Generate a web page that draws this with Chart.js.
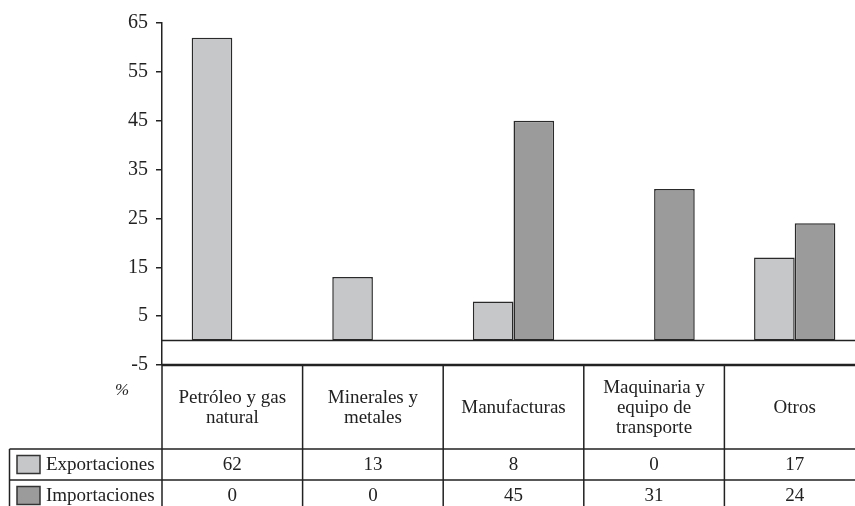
<!DOCTYPE html>
<html>
<head>
<meta charset="utf-8">
<script src="https://cdn.jsdelivr.net/npm/chart.js@4"></script>
<style>
  html, body { margin: 0; padding: 0; background: #fff; overflow: hidden; }
  #wrap { width: 866px; height: 506px; }
</style>
</head>
<body>
<div id="wrap"><canvas id="grafico"></canvas></div>
<script>
const categorias = [
  ['Petróleo y gas', 'natural'],
  ['Minerales y', 'metales'],
  ['Manufacturas'],
  ['Maquinaria y', 'equipo de', 'transporte'],
  ['Otros']
];
const exportaciones = [62, 13, 8, 0, 17];
const importaciones = [0, 0, 45, 31, 24];
const yTicks = [-5, 5, 15, 25, 35, 45, 55, 65];

const colorExp = '#c6c7c9';
const colorImp = '#9b9b9b';
const tinta = '#222';
const fuente = '"Liberation Serif", "Times New Roman", serif';

// tabla de datos bajo el eje x
const tablaPlugin = {
  id: 'tabla',
  afterDraw(chart) {
    const ctx = chart.ctx;
    const x = chart.scales.x, y = chart.scales.y;
    const area = chart.chartArea;
    const w = x.getPixelForValue(1) - x.getPixelForValue(0);
    const top = y.getPixelForValue(-5);
    const hdrBottom = top + 84;
    const row1 = hdrBottom + 31;
    const row2 = row1 + 31;
    const legLeft = 9.5;

    ctx.save();
    ctx.strokeStyle = tinta;

    // linea del cero
    const y0 = y.getPixelForValue(0);
    ctx.lineWidth = 1.5;
    ctx.beginPath();
    ctx.moveTo(area.left, y0);
    ctx.lineTo(area.right, y0);
    ctx.stroke();

    // borde superior de la tabla
    ctx.lineWidth = 2.5;
    ctx.beginPath();
    ctx.moveTo(area.left, top);
    ctx.lineTo(area.right, top);
    ctx.stroke();

    ctx.lineWidth = 1.5;
    ctx.beginPath();
    ctx.moveTo(legLeft, hdrBottom);
    ctx.lineTo(area.right, hdrBottom);
    ctx.moveTo(legLeft, row1);
    ctx.lineTo(area.right, row1);
    ctx.moveTo(legLeft, row2);
    ctx.lineTo(area.right, row2);
    ctx.moveTo(legLeft, hdrBottom);
    ctx.lineTo(legLeft, row2);
    ctx.moveTo(area.left, top);
    ctx.lineTo(area.left, row2);
    categorias.forEach((c, i) => {
      const xr = x.getPixelForValue(i) + w / 2;
      ctx.moveTo(xr, top);
      ctx.lineTo(xr, row2);
    });
    ctx.stroke();

    // textos de categorias
    ctx.fillStyle = tinta;
    ctx.font = '19px ' + fuente;
    ctx.textAlign = 'center';
    ctx.textBaseline = 'middle';
    const lh = 20;
    categorias.forEach((lineas, i) => {
      const cx = x.getPixelForValue(i);
      const start = 408 - (lineas.length - 1) * lh / 2;
      lineas.forEach((t, k) => ctx.fillText(t, cx, start + k * lh));
      ctx.fillText(String(exportaciones[i]), cx, (hdrBottom + row1) / 2 + 1);
      ctx.fillText(String(importaciones[i]), cx, (row1 + row2) / 2 + 1);
    });

    // leyenda
    const series = [
      { nombre: 'Exportaciones', color: colorExp, y1: hdrBottom, y2: row1 },
      { nombre: 'Importaciones', color: colorImp, y1: row1, y2: row2 }
    ];
    ctx.textAlign = 'left';
    series.forEach(s => {
      const my = (s.y1 + s.y2) / 2;
      ctx.fillStyle = s.color;
      ctx.fillRect(17, my - 9, 23, 18);
      ctx.lineWidth = 1.5;
      ctx.strokeStyle = '#333';
      ctx.strokeRect(17, my - 9, 23, 18);
      ctx.fillStyle = tinta;
      ctx.fillText(s.nombre, 46, my + 1);
    });

    ctx.font = 'italic 17px ' + fuente;
    ctx.textAlign = 'center';
    ctx.fillText('%', 122, 391);
    ctx.restore();
  }
};

new Chart(document.getElementById('grafico'), {
  type: 'bar',
  data: {
    labels: categorias.map(c => c.join(' ')),
    datasets: [
      {
        label: 'Exportaciones',
        data: exportaciones,
        backgroundColor: colorExp,
        borderColor: '#2a2a2a',
        borderWidth: 1.5,
        borderSkipped: false
      },
      {
        label: 'Importaciones',
        data: importaciones,
        backgroundColor: colorImp,
        borderColor: '#2a2a2a',
        borderWidth: 1.5,
        borderSkipped: false
      }
    ]
  },
  options: {
    responsive: true,
    maintainAspectRatio: false,
    animation: false,
    layout: { padding: { top: 23, right: 1, bottom: 141, left: 0 } },
    datasets: { bar: { categoryPercentage: 0.578, barPercentage: 1 } },
    plugins: {
      legend: { display: false },
      tooltip: { enabled: false }
    },
    scales: {
      x: { display: false },
      y: {
        min: -5,
        max: 65,
        afterBuildTicks: s => { s.ticks = yTicks.map(v => ({ value: v })); },
        afterFit: s => { s.width = 162; },
        grid: { drawOnChartArea: false, drawTicks: true, tickLength: 6, color: tinta, lineWidth: 1.5 },
        border: { display: true, color: tinta, width: 1.5 },
        ticks: { color: tinta, padding: 8, font: { family: fuente, size: 20 } }
      }
    }
  },
  plugins: [tablaPlugin]
});
</script>
</body>
</html>
